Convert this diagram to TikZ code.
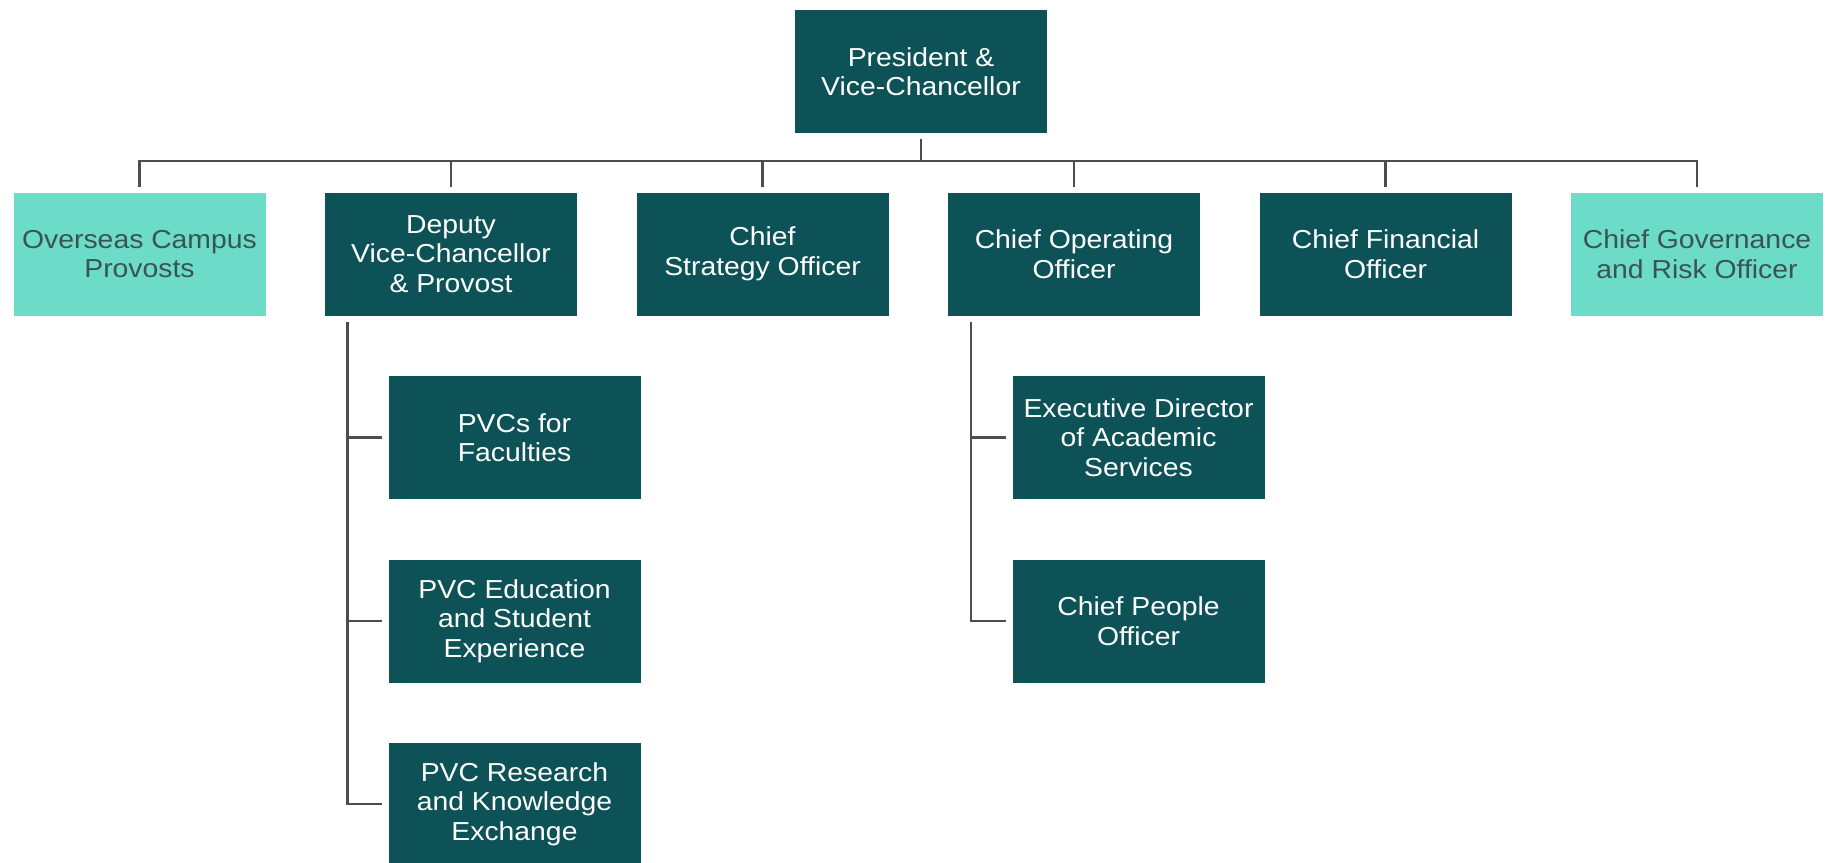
\documentclass[tikz,border=0pt]{standalone}
\usepackage{fontspec}
\setmainfont{Liberation Sans}[FakeStretch=1.09]
\definecolor{deepteal}{RGB}{13,82,87}
\definecolor{mint}{RGB}{108,219,200}
\definecolor{mintink}{RGB}{58,84,82}
\definecolor{linkgray}{RGB}{77,77,77}

\begin{document}
\begin{tikzpicture}[x=1pt,y=-1pt,
  post/.style={minimum width=252pt,minimum height=123pt,inner sep=2pt,align=center,
    font=\fontsize{26}{29.5}\selectfont},
  dark/.style={post,fill=deepteal,text=white},
  light/.style={post,fill=mint,text=mintink},
  link/.style={draw=linkgray,line width=2.6pt}]
\useasboundingbox (0,0) rectangle (1827,862);

\node[dark] (pres) at (921,71.5) {President \&\\Vice-Chancellor};

\node[light] (ocp) at (139.5,254) {Overseas Campus\\Provosts};
\node[dark]  (dvc) at (451,254)   {Deputy\\Vice-Chancellor\\\& Provost};
\node[dark]  (cso) at (762.5,254) {Chief\\Strategy Officer};
\node[dark]  (coo) at (1074,254)  {Chief Operating\\Officer};
\node[dark]  (cfo) at (1385.5,254) {Chief Financial\\Officer};
\node[light] (cgro) at (1697,254) {Chief Governance\\and Risk Officer};

\node[dark] (pvcf) at (514.5,437.5) {PVCs for\\Faculties};
\node[dark] (pvce) at (514.5,621)   {PVC Education\\and Student\\Experience};
\node[dark] (pvcr) at (514.5,804)   {PVC Research\\and Knowledge\\Exchange};

\node[dark] (edas) at (1138.5,437.5) {Executive Director\\of Academic\\Services};
\node[dark] (cpo)  at (1138.5,621)   {Chief People\\Officer};

\coordinate (bus) at (921,161);
\draw[link] ([yshift=-6pt]pres.south) -- (bus);
\draw[link] ([yshift=5pt]ocp.north) |- (bus) -| ([yshift=5pt]cgro.north);
\foreach \n in {dvc,cso,coo,cfo}
  \draw[link] ([yshift=5pt]\n.north) -- (\n.north |- bus);

\coordinate (dvcline) at ([xshift=22.5pt,yshift=-6pt]dvc.south west);
\draw[link] (dvcline) |- ([xshift=-6pt]pvcr.west);
\foreach \n in {pvcf,pvce}
  \draw[link] (dvcline |- \n.west) -- ([xshift=-6pt]\n.west);

\coordinate (cooline) at ([xshift=23pt,yshift=-6pt]coo.south west);
\draw[link] (cooline) |- ([xshift=-6pt]cpo.west);
\draw[link] (cooline |- edas.west) -- ([xshift=-6pt]edas.west);
\end{tikzpicture}
\end{document}
